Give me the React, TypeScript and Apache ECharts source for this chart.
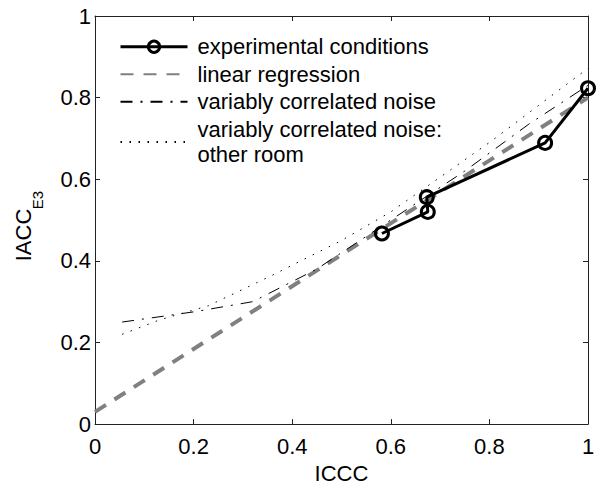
import React, { useEffect, useRef } from 'react';
import * as echarts from 'echarts';

// Experimental conditions (ICCC, IACC_E3)
const expX = [0.582, 0.675, 0.673, 0.913, 1.0];
const expY = [0.467, 0.52, 0.556, 0.689, 0.823];
// Linear regression
const regX = [0, 1];
const regY = [0.03, 0.8];
// Variably correlated noise
const noiseX = [0.055, 0.2, 0.32, 0.45, 0.6, 0.75, 0.88, 1.0];
const noiseY = [0.25, 0.275, 0.3, 0.38, 0.5, 0.62, 0.735, 0.83];
// Variably correlated noise: other room
const otherX = [0.055, 0.13, 0.23, 0.36, 0.5, 0.6, 0.8, 1.0];
const otherY = [0.22, 0.255, 0.29, 0.365, 0.45, 0.52, 0.69, 0.872];

const seriesNames = [
  'experimental conditions',
  'linear regression',
  'variably correlated noise',
  'variably correlated noise:\nother room',
];

const FONT = '"Liberation Sans", Arial, Helvetica, sans-serif';

const pairs = (xs: number[], ys: number[]) => xs.map((x, i) => [x, ys[i]]);

export default function App() {
  const ref = useRef<HTMLDivElement>(null);
  useEffect(() => {
    document.body.style.margin = '0';
    if (!ref.current) return;
    const chart = echarts.init(ref.current, null, { renderer: 'svg' });
    const axisLine = { show: true, onZero: false, lineStyle: { color: '#222', width: 1 } };
    const axisTick = { show: true, inside: true, length: 5, lineStyle: { color: '#222', width: 1 } };
    const labelStyle = { color: '#000', fontSize: 22, fontFamily: FONT };
    chart.setOption({
      animation: false,
      backgroundColor: '#fff',
      grid: { left: 95, top: 16, width: 493, height: 414, containLabel: false },
      xAxis: [
        {
          type: 'value', min: 0, max: 1, interval: 0.2, position: 'bottom',
          axisLine, axisTick, splitLine: { show: false },
          axisLabel: { ...labelStyle, margin: 11 },
          name: 'ICCC', nameLocation: 'middle', nameGap: 35,
          nameTextStyle: { ...labelStyle },
        },
        {
          type: 'value', min: 0, max: 1, interval: 0.2, position: 'top',
          axisLine, axisTick, splitLine: { show: false }, axisLabel: { show: false },
        },
      ],
      yAxis: [
        {
          type: 'value', min: 0, max: 1, interval: 0.2, position: 'left',
          axisLine, axisTick, splitLine: { show: false },
          axisLabel: { ...labelStyle, margin: 4 },
        },
        {
          type: 'value', min: 0, max: 1, interval: 0.2, position: 'right',
          axisLine, axisTick, splitLine: { show: false }, axisLabel: { show: false },
        },
      ],
      legend: {
        orient: 'vertical', left: 119, top: 34, padding: 0,
        itemWidth: 67, itemHeight: 14, itemGap: 2,
        selectedMode: false,
        textStyle: { color: '#000', fontSize: 22, lineHeight: 25.5, fontFamily: FONT, padding: [0, 0, 0, 5] },
        data: [
          { name: seriesNames[0], lineStyle: { width: 3, color: '#000' }, itemStyle: { borderWidth: 3, borderColor: '#000', color: 'rgba(255,255,255,0)' } },
          { name: seriesNames[1], itemStyle: { opacity: 0 } },
          { name: seriesNames[2], itemStyle: { opacity: 0 } },
          { name: seriesNames[3], itemStyle: { opacity: 0 } },
        ],
      },
      graphic: [
        {
          type: 'text', x: 23, y: 235, rotation: Math.PI / 2,
          style: { text: 'IACC', font: `22px ${FONT}`, fill: '#000', align: 'center', verticalAlign: 'middle' },
        },
        {
          type: 'text', x: 37, y: 200, rotation: Math.PI / 2,
          style: { text: 'E3', font: `15px ${FONT}`, fill: '#000', align: 'center', verticalAlign: 'middle' },
        },
      ],
      series: [
        {
          name: seriesNames[1], type: 'line', data: pairs(regX, regY), symbol: 'none', z: 2,
          lineStyle: { color: '#808080', width: 4, type: [13, 10] },
          itemStyle: { color: '#808080' },
        },
        {
          name: seriesNames[2], type: 'line', data: pairs(noiseX, noiseY), symbol: 'none', z: 3,
          lineStyle: { color: '#000', width: 1, type: [12, 8, 2, 8] },
          itemStyle: { color: '#000' },
        },
        {
          name: seriesNames[3], type: 'line', data: pairs(otherX, otherY), symbol: 'none', z: 3,
          lineStyle: { color: '#000', width: 1, type: [1.5, 7.5] },
          itemStyle: { color: '#000' },
        },
        {
          name: seriesNames[0], type: 'line', data: pairs(expX, expY), z: 5,
          symbol: 'circle', symbolSize: 13,
          lineStyle: { color: '#000', width: 3 },
          itemStyle: { color: 'rgba(255,255,255,0)', borderColor: '#000', borderWidth: 3 },
        },
      ],
    });
    return () => chart.dispose();
  }, []);
  return <div ref={ref} style={{ width: 604, height: 489 }} />;
}
